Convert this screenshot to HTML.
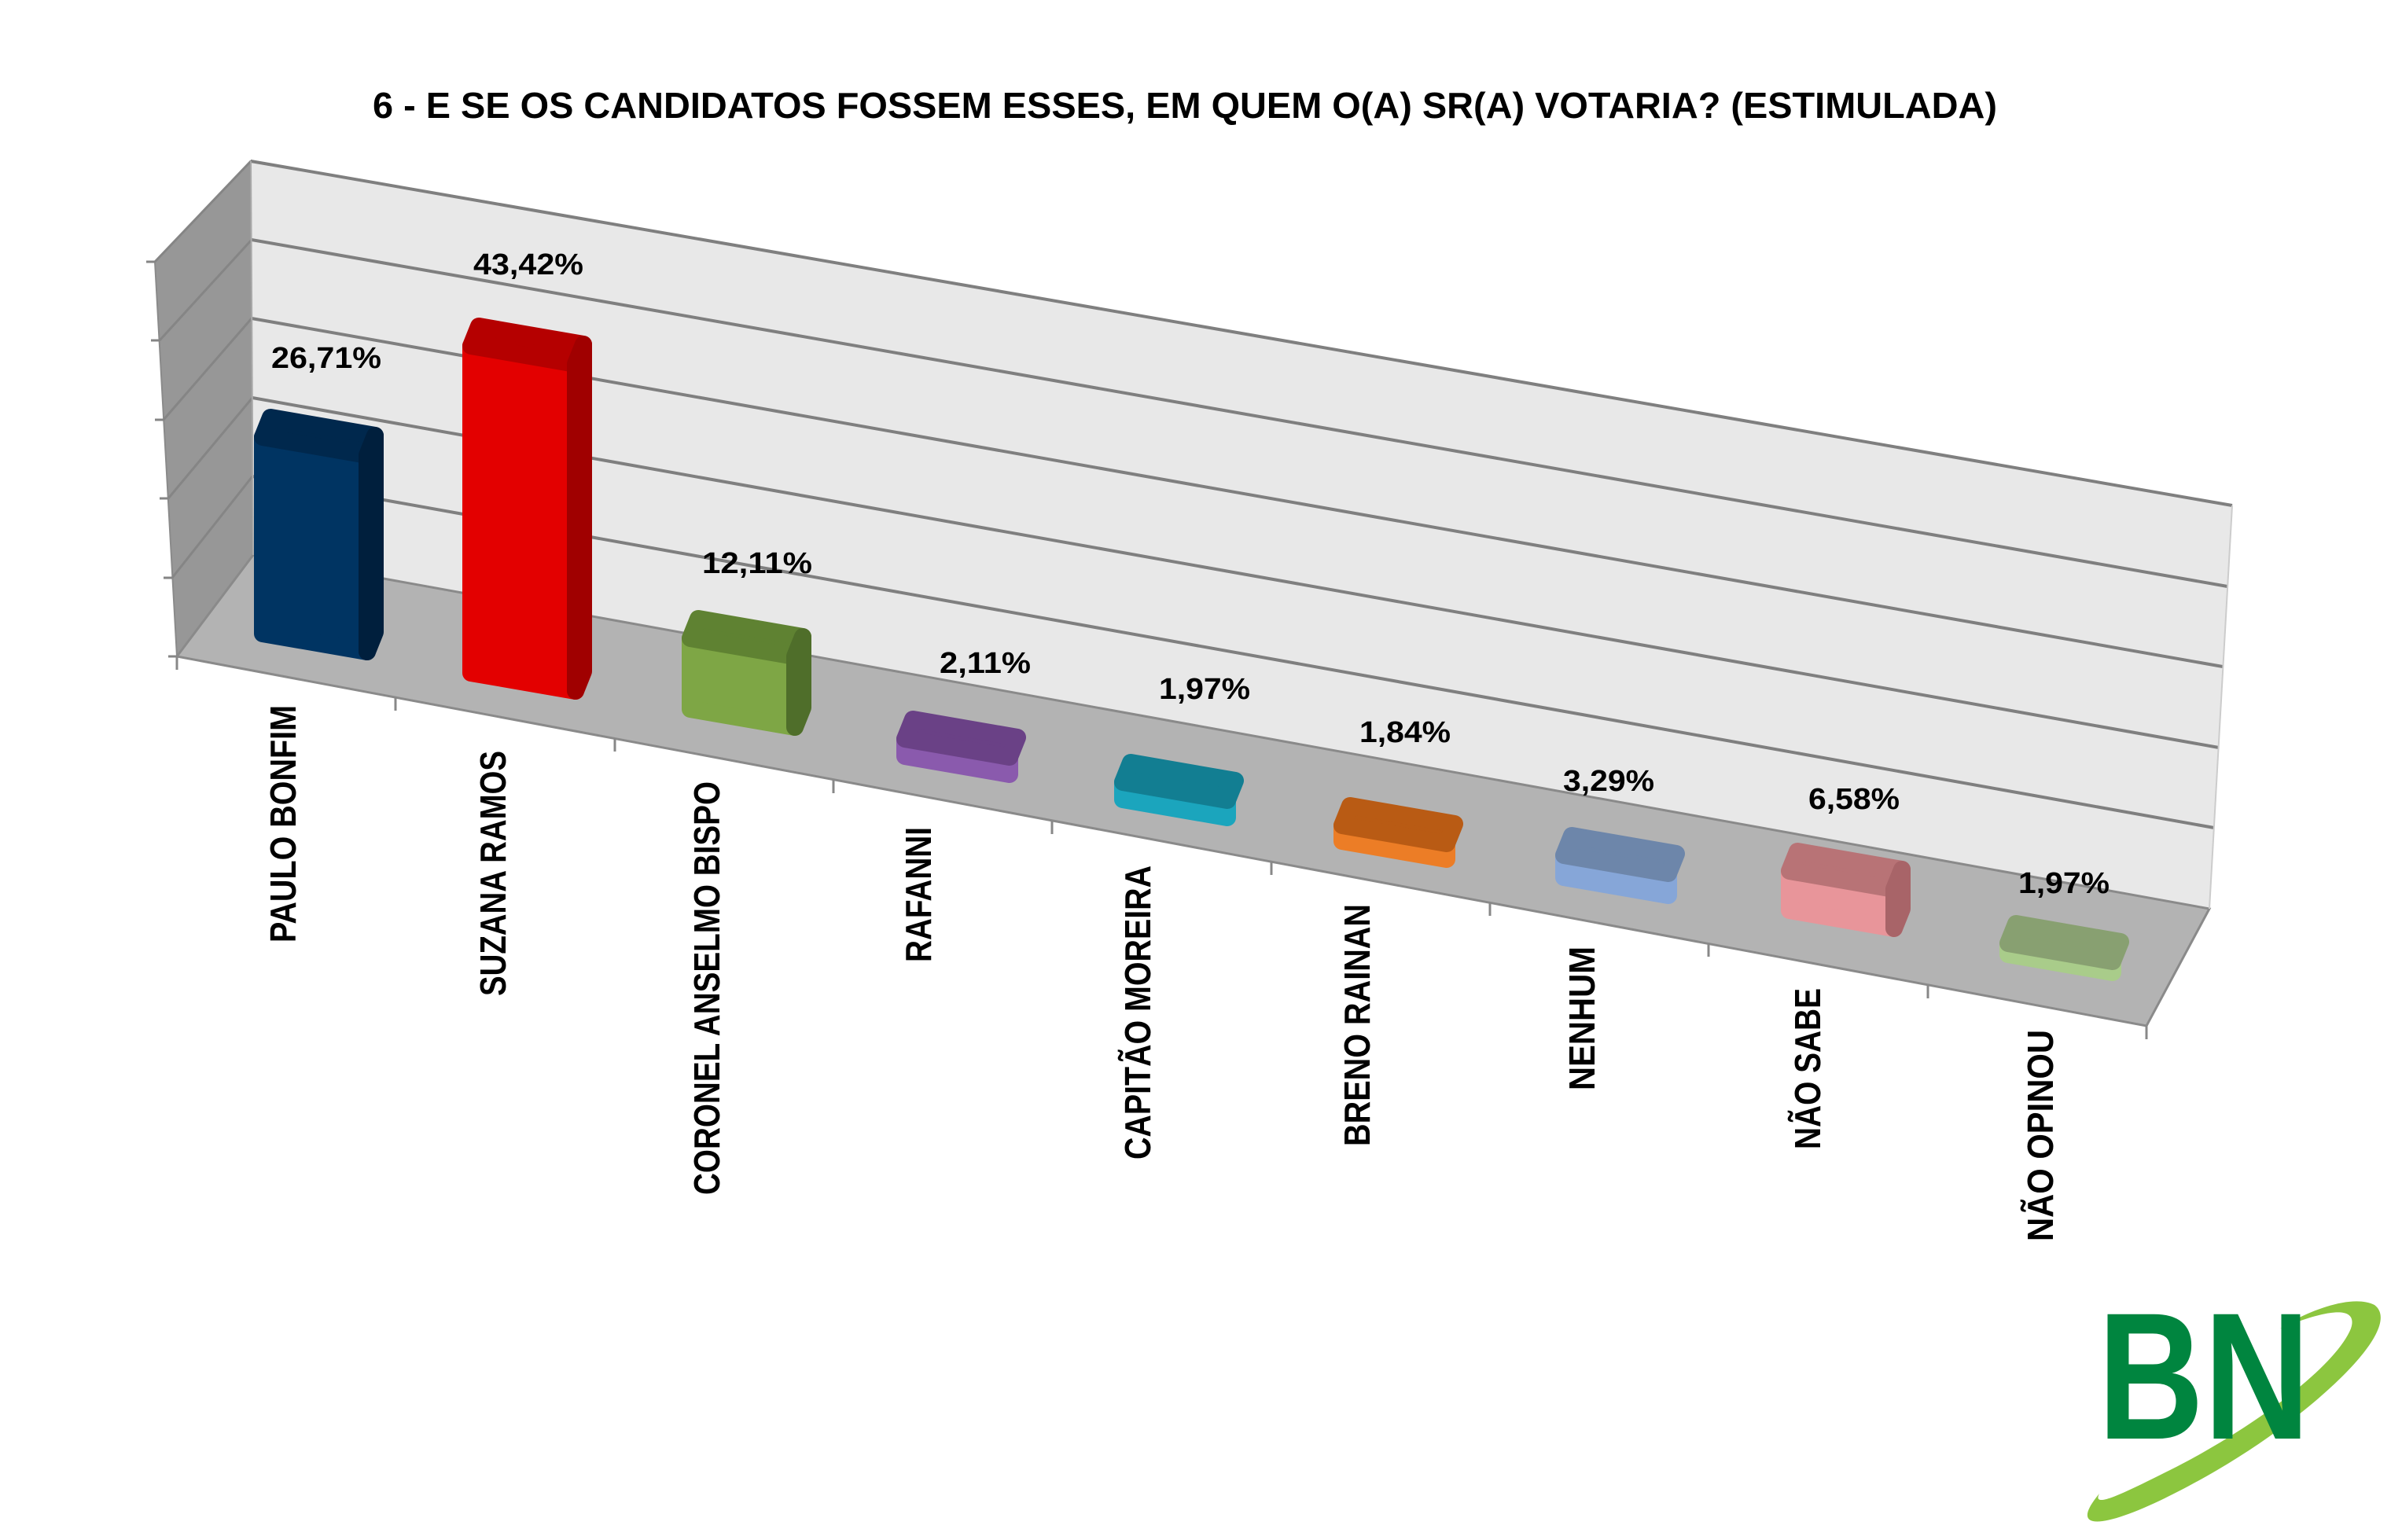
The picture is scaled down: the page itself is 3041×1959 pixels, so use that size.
<!DOCTYPE html>
<html><head><meta charset="utf-8"><style>
html,body{margin:0;padding:0;background:#fff}
svg{display:block}
text{font-family:"Liberation Sans",Arial,sans-serif;font-weight:bold;fill:#000}
</style></head><body>
<svg width="3041" height="1959" viewBox="0 0 3041 1959" xmlns="http://www.w3.org/2000/svg">
<text x="1507" y="150" font-size="46" text-anchor="middle" textLength="2066" lengthAdjust="spacingAndGlyphs">6 - E SE OS CANDIDATOS FOSSEM ESSES, EM QUEM O(A) SR(A) VOTARIA? (ESTIMULADA)</text>

<polygon points="197,333 319,205 322,706 225,835" fill="#979797" stroke="#8a8a8a" stroke-width="2"/>
<polygon points="319,205 2839,643 2810,1156 322,706" fill="#e8e8e8"/>
<polygon points="225,835 322,706 2810,1156 2730,1305" fill="#b3b3b3" stroke="#8a8a8a" stroke-width="3"/>
<g stroke="#7f7f7f" stroke-width="4" fill="none">
<line x1="319" y1="205" x2="2839" y2="643"/>
<line x1="320" y1="305" x2="2833" y2="746"/>
<line x1="320" y1="405" x2="2827" y2="848"/>
<line x1="321" y1="506" x2="2822" y2="951"/>
<line x1="321" y1="606" x2="2816" y2="1053"/>
</g>
<g stroke="#858585" stroke-width="3" fill="none">
<line x1="197" y1="333" x2="319" y2="205"/>
<line x1="203" y1="433" x2="320" y2="305"/>
<line x1="208" y1="534" x2="320" y2="405"/>
<line x1="214" y1="634" x2="321" y2="506"/>
<line x1="219" y1="735" x2="321" y2="606"/>
<line x1="197" y1="333" x2="186" y2="333"/>
<line x1="203" y1="433" x2="192" y2="433"/>
<line x1="208" y1="534" x2="197" y2="534"/>
<line x1="214" y1="634" x2="203" y2="634"/>
<line x1="219" y1="735" x2="208" y2="735"/>
<line x1="225" y1="835" x2="214" y2="835"/>
</g>
<line x1="319" y1="205" x2="322" y2="706" stroke="#aaa" stroke-width="2"/>
<line x1="2839" y1="643" x2="2810" y2="1156" stroke="#ccc" stroke-width="2"/>
<g stroke="#888" stroke-width="3">
<line x1="225" y1="835" x2="225" y2="852"/>
<line x1="503" y1="887" x2="503" y2="904"/>
<line x1="782" y1="939" x2="782" y2="956"/>
<line x1="1060" y1="992" x2="1060" y2="1009"/>
<line x1="1338" y1="1044" x2="1338" y2="1061"/>
<line x1="1617" y1="1096" x2="1617" y2="1113"/>
<line x1="1895" y1="1148" x2="1895" y2="1165"/>
<line x1="2173" y1="1200" x2="2173" y2="1217"/>
<line x1="2452" y1="1253" x2="2452" y2="1270"/>
<line x1="2730" y1="1305" x2="2730" y2="1322"/>
</g>

<g stroke-linejoin="round" stroke-width="22">
<polygon points="334,556 467,579 467,829 334,806" fill="#003462" stroke="#003462"/>
<polygon points="334,556 344,531 477,554 467,579" fill="#00284d" stroke="#00284d"/>
<polygon points="467,579 477,554 477,804 467,829" fill="#001f3d" stroke="#001f3d"/>

<polygon points="599,440 732,463 732,879 599,856" fill="#e30000" stroke="#e30000"/>
<polygon points="599,440 609,415 742,438 732,463" fill="#b50000" stroke="#b50000"/>
<polygon points="732,463 742,438 742,854 732,879" fill="#a00000" stroke="#a00000"/>

<polygon points="878,812 1011,835 1011,925 878,902" fill="#7ea645" stroke="#7ea645"/>
<polygon points="878,812 888,787 1021,810 1011,835" fill="#5f8232" stroke="#5f8232"/>
<polygon points="1011,835 1021,810 1021,900 1011,925" fill="#4f6e2a" stroke="#4f6e2a"/>

<polygon points="1151,940 1284,963 1284,985 1151,962" fill="#8a5aad" stroke="#8a5aad"/>
<polygon points="1151,940 1161,915 1294,938 1284,963" fill="#6a4186" stroke="#6a4186"/>

<polygon points="1428,995 1561,1018 1561,1040 1428,1017" fill="#1ba5bd" stroke="#1ba5bd"/>
<polygon points="1428,995 1438,970 1571,993 1561,1018" fill="#127e92" stroke="#127e92"/>

<polygon points="1707,1050 1840,1073 1840,1093 1707,1070" fill="#ec7d26" stroke="#ec7d26"/>
<polygon points="1707,1050 1717,1025 1850,1048 1840,1073" fill="#b95b14" stroke="#b95b14"/>

<polygon points="1989,1088 2122,1111 2122,1139 1989,1116" fill="#86a6d8" stroke="#86a6d8"/>
<polygon points="1989,1088 1999,1063 2132,1086 2122,1111" fill="#6d86aa" stroke="#6d86aa"/>

<polygon points="2276,1108 2409,1131 2409,1181 2276,1158" fill="#e8959a" stroke="#e8959a"/>
<polygon points="2276,1108 2286,1083 2419,1106 2409,1131" fill="#b87376" stroke="#b87376"/>
<polygon points="2409,1131 2419,1106 2419,1156 2409,1181" fill="#a86468" stroke="#a86468"/>

<polygon points="2554,1200 2687,1223 2687,1237 2554,1214" fill="#a9cc8a" stroke="#a9cc8a"/>
<polygon points="2554,1200 2564,1175 2697,1198 2687,1223" fill="#88a071" stroke="#88a071"/>
</g>

<g font-size="38" text-anchor="middle">
<text x="415" y="468" textLength="140" lengthAdjust="spacingAndGlyphs">26,71%</text>
<text x="672" y="349" textLength="140" lengthAdjust="spacingAndGlyphs">43,42%</text>
<text x="963" y="729" textLength="140" lengthAdjust="spacingAndGlyphs">12,11%</text>
<text x="1253" y="856" textLength="116" lengthAdjust="spacingAndGlyphs">2,11%</text>
<text x="1532" y="889" textLength="116" lengthAdjust="spacingAndGlyphs">1,97%</text>
<text x="1787" y="944" textLength="116" lengthAdjust="spacingAndGlyphs">1,84%</text>
<text x="2046" y="1006" textLength="116" lengthAdjust="spacingAndGlyphs">3,29%</text>
<text x="2358" y="1029" textLength="116" lengthAdjust="spacingAndGlyphs">6,58%</text>
<text x="2625" y="1136" textLength="116" lengthAdjust="spacingAndGlyphs">1,97%</text>
</g>

<g font-size="46" text-anchor="end">
<text transform="translate(376,897) rotate(-90)" textLength="302" lengthAdjust="spacingAndGlyphs">PAULO BONFIM</text>
<text transform="translate(643,955) rotate(-90)" textLength="312" lengthAdjust="spacingAndGlyphs">SUZANA RAMOS</text>
<text transform="translate(915,994) rotate(-90)" textLength="526" lengthAdjust="spacingAndGlyphs">CORONEL ANSELMO BISPO</text>
<text transform="translate(1184,1052) rotate(-90)" textLength="172" lengthAdjust="spacingAndGlyphs">RAFANNI</text>
<text transform="translate(1463,1101) rotate(-90)" textLength="374" lengthAdjust="spacingAndGlyphs">CAPITÃO MOREIRA</text>
<text transform="translate(1742,1150) rotate(-90)" textLength="308" lengthAdjust="spacingAndGlyphs">BRENO RAINAN</text>
<text transform="translate(2028,1204) rotate(-90)" textLength="183" lengthAdjust="spacingAndGlyphs">NENHUM</text>
<text transform="translate(2315,1257) rotate(-90)" textLength="205" lengthAdjust="spacingAndGlyphs">NÃO SABE</text>
<text transform="translate(2611,1310) rotate(-90)" textLength="269" lengthAdjust="spacingAndGlyphs">NÃO OPINOU</text>
</g>

<g>
<path d="M2670,1900 C2620,1960 2700,1940 2820,1870 C2940,1800 3060,1690 3020,1660 C2990,1645 2930,1670 2900,1690 C2960,1665 3000,1660 2990,1690 C2970,1740 2860,1820 2760,1870 C2700,1900 2660,1920 2670,1900 Z" fill="#8cc63f"/>
<text x="2668" y="1830" font-size="230" style="fill:#00853f" textLength="270" lengthAdjust="spacingAndGlyphs">BN</text>
</g>
</svg>
</body></html>
